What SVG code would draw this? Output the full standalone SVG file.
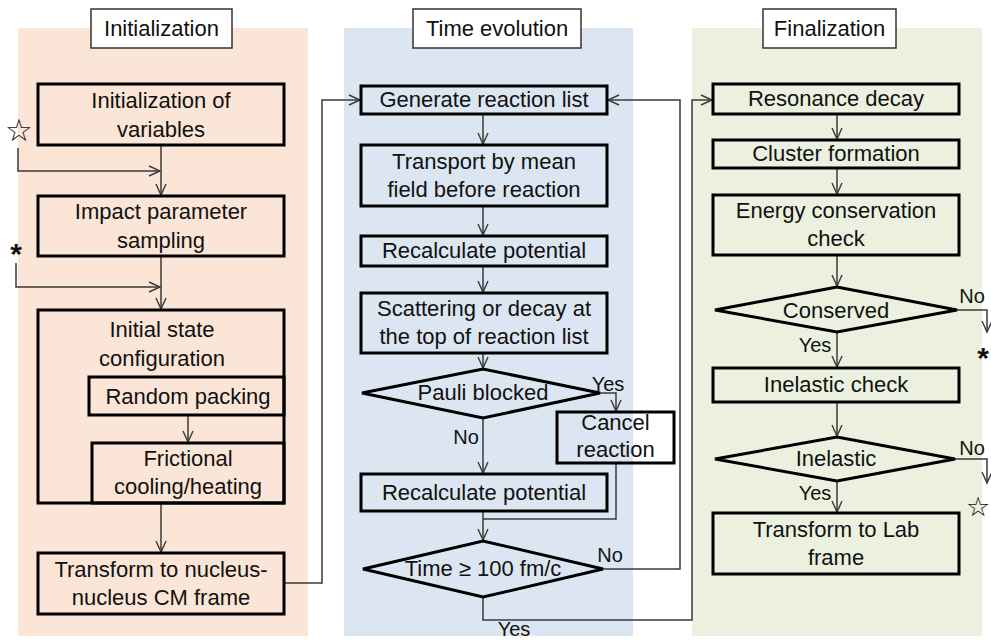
<svg xmlns="http://www.w3.org/2000/svg" width="991" height="641" viewBox="0 0 991 641">
<style>
.bg{fill:#ffffff}
.box{fill:none;stroke:#000;stroke-width:3}
.title{fill:#fff;stroke:#333;stroke-width:1.5}
.t{font-family:"Liberation Sans",Arial,sans-serif;font-size:22px;fill:#111;text-anchor:middle}
.s{font-family:"Liberation Sans",Arial,sans-serif;font-size:20px;fill:#111;text-anchor:middle}
.sym{font-family:"DejaVu Sans",sans-serif;font-size:31px;fill:#111;text-anchor:middle}
.ast{font-family:"Liberation Sans",Arial,sans-serif;font-size:30px;font-weight:bold;fill:#111;text-anchor:middle}
.c{fill:none;stroke:#3a3a3a;stroke-width:1.5}
.ca{fill:none;stroke:#3a3a3a;stroke-width:1.5;marker-end:url(#arr)}
</style>
<defs>
<marker id="arr" markerUnits="userSpaceOnUse" markerWidth="14" markerHeight="12" viewBox="0 0 14 12" refX="12" refY="6" orient="auto">
<path d="M1,1 L12,6 L1,11" fill="none" stroke="#3a3a3a" stroke-width="1.4"/>
</marker>
</defs>
<rect class="bg" x="0" y="0" width="991" height="641"/>

<g id="panel-init">
<rect x="18" y="28" width="290" height="608" fill="#fbe5d6"/>
<rect class="title" x="91" y="9" width="141" height="39"/>
<text class="t" x="161.5" y="36">Initialization</text>
</g>
<g id="panel-time">
<rect x="344" y="28" width="289" height="608" fill="#dce6f2"/>
<rect class="title" x="413" y="9" width="168" height="39"/>
<text class="t" x="497" y="36">Time evolution</text>
</g>
<g id="panel-final">
<rect x="692" y="28" width="290" height="608" fill="#ebf1de"/>
<rect class="title" x="763" y="9" width="133" height="39"/>
<text class="t" x="829.5" y="36">Finalization</text>
</g>

<g id="connectors">
<line class="ca" x1="161" y1="145" x2="161" y2="195"/>
<polyline class="ca" points="18,148 18,171 160,171"/>
<line class="ca" x1="161" y1="256" x2="161" y2="309"/>
<polyline class="ca" points="16,263 16,287 160,287"/>
<line class="ca" x1="188" y1="415" x2="188" y2="442"/>
<line class="ca" x1="161" y1="503" x2="161" y2="552"/>
<polyline class="ca" points="284,583 322,583 322,100 360,100"/>

<line class="ca" x1="483" y1="114" x2="483" y2="144"/>
<line class="ca" x1="483" y1="206" x2="483" y2="235"/>
<line class="ca" x1="483" y1="266" x2="483" y2="292"/>
<line class="ca" x1="483" y1="353" x2="483" y2="368"/>
<line class="ca" x1="483" y1="418" x2="483" y2="473"/>
<polyline class="ca" points="600,393 616,393 616,411"/>
<polyline class="c" points="616,463 616,519 483,519"/>
<line class="ca" x1="483" y1="511" x2="483" y2="540"/>
<polyline class="ca" points="603,569 680,569 680,100 608,100"/>
<polyline class="ca" points="483,597 483,620 692,620 692,100 712,100"/>

<line class="ca" x1="837" y1="114" x2="837" y2="139"/>
<line class="ca" x1="837" y1="168" x2="837" y2="194"/>
<line class="ca" x1="837" y1="255" x2="837" y2="286"/>
<line class="ca" x1="837" y1="332" x2="837" y2="367"/>
<line class="ca" x1="837" y1="402" x2="837" y2="436"/>
<line class="ca" x1="837" y1="481" x2="837" y2="512"/>
<polyline class="ca" points="957,310 987,310 987,332"/>
<polyline class="ca" points="955,459 987,459 987,483"/>
</g>

<g id="n-init-vars">
<rect class="box" x="38" y="84" width="246" height="61"/>
<text class="t" x="161" y="108">Initialization of</text>
<text class="t" x="161" y="137">variables</text>
</g>
<g id="n-impact">
<rect class="box" x="38" y="196" width="246" height="60"/>
<text class="t" x="161" y="219">Impact parameter</text>
<text class="t" x="161" y="248">sampling</text>
</g>
<g id="n-initial-state">
<rect class="box" x="38" y="310" width="246" height="193"/>
<text class="t" x="162" y="337">Initial state</text>
<text class="t" x="162" y="366">configuration</text>
</g>
<g id="n-random">
<rect class="box" x="89" y="377" width="195" height="38" fill="#fbe5d6"/>
<text class="t" x="188" y="404">Random packing</text>
</g>
<g id="n-frictional">
<rect class="box" x="92" y="443" width="192" height="60" fill="#fbe5d6"/>
<text class="t" x="188" y="466">Frictional</text>
<text class="t" x="188" y="494">cooling/heating</text>
</g>
<g id="n-transform-cm">
<rect class="box" x="38" y="553" width="246" height="61"/>
<text class="t" x="161" y="577">Transform to nucleus-</text>
<text class="t" x="161" y="605">nucleus CM frame</text>
</g>
<g id="star-left">
<text class="sym" x="19" y="141">☆</text>
<text class="ast" x="16" y="264">*</text>
</g>

<g id="n-generate">
<rect class="box" x="361" y="86" width="246" height="28"/>
<text class="t" x="484" y="107">Generate reaction list</text>
</g>
<g id="n-transport">
<rect class="box" x="361" y="145" width="246" height="61"/>
<text class="t" x="484" y="169">Transport by mean</text>
<text class="t" x="484" y="197">field before reaction</text>
</g>
<g id="n-recalc1">
<rect class="box" x="361" y="236" width="246" height="30"/>
<text class="t" x="484" y="258">Recalculate potential</text>
</g>
<g id="n-scatter">
<rect class="box" x="361" y="293" width="246" height="60"/>
<text class="t" x="484" y="316">Scattering or decay at</text>
<text class="t" x="484" y="344">the top of reaction list</text>
</g>
<g id="n-pauli">
<polygon class="box" points="362,393 483,369 600,393 483,418"/>
<text class="t" x="483" y="400">Pauli blocked</text>
<text class="s" x="608" y="391">Yes</text>
<text class="s" x="466" y="444">No</text>
</g>
<g id="n-cancel">
<rect class="box" x="557" y="412" width="117" height="51"/>
<text class="t" x="615.5" y="430">Cancel</text>
<text class="t" x="615.5" y="457">reaction</text>
</g>
<g id="n-recalc2">
<rect class="box" x="361" y="474" width="246" height="37"/>
<text class="t" x="484" y="500">Recalculate potential</text>
</g>
<g id="n-time">
<polygon class="box" points="363,569 483,541 603,569 483,597"/>
<text class="t" x="483" y="576">Time ≥ 100 fm/c</text>
<text class="s" x="610" y="562">No</text>
<text class="s" x="514" y="636">Yes</text>
</g>

<g id="n-resonance">
<rect class="box" x="713" y="84" width="246" height="30"/>
<text class="t" x="836" y="106">Resonance decay</text>
</g>
<g id="n-cluster">
<rect class="box" x="713" y="140" width="246" height="28"/>
<text class="t" x="836" y="161">Cluster formation</text>
</g>
<g id="n-energy">
<rect class="box" x="713" y="195" width="246" height="60"/>
<text class="t" x="836" y="218">Energy conservation</text>
<text class="t" x="836" y="246">check</text>
</g>
<g id="n-conserved">
<polygon class="box" points="715,310 837,287 957,310 837,332"/>
<text class="t" x="836" y="318">Conserved</text>
<text class="s" x="972" y="303">No</text>
<text class="s" x="815" y="352">Yes</text>
<text class="ast" x="983" y="368">*</text>
</g>
<g id="n-inelastic-check">
<rect class="box" x="713" y="368" width="246" height="34"/>
<text class="t" x="836" y="392">Inelastic check</text>
</g>
<g id="n-inelastic">
<polygon class="box" points="715,459 837,437 955,459 837,481"/>
<text class="t" x="836" y="466">Inelastic</text>
<text class="s" x="972" y="455">No</text>
<text class="s" x="815" y="500">Yes</text>
<text class="sym" x="978" y="516" style="font-size:27px">☆</text>
</g>
<g id="n-lab">
<rect class="box" x="713" y="513" width="246" height="61"/>
<text class="t" x="836" y="537">Transform to Lab</text>
<text class="t" x="836" y="565">frame</text>
</g>
</svg>
